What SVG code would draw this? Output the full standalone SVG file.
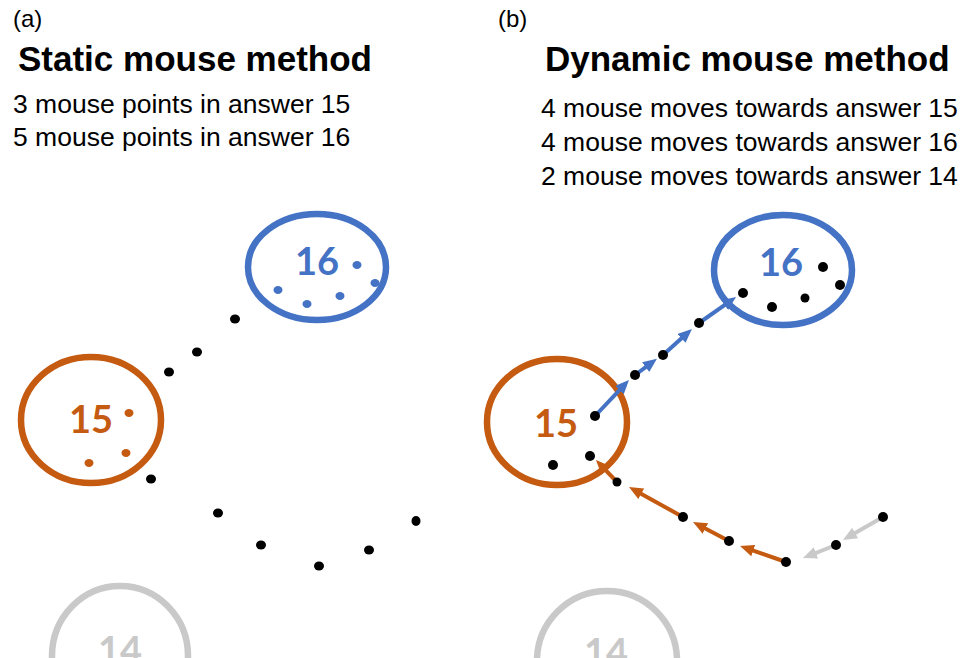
<svg xmlns="http://www.w3.org/2000/svg" width="976" height="658" viewBox="0 0 976 658">
<style>
.lbl{font-family:"Liberation Sans",Arial,sans-serif;fill:#000}
.panel{font-size:24px}
.title{font-size:35px;font-weight:bold}
.line{font-size:26.5px}
.num{font-family:Lato,"Open Sans",sans-serif;font-weight:bold;font-size:38px;text-anchor:middle}
.ring{fill:none;stroke-width:6.5}
.blue{stroke:#4472C4}
.orange{stroke:#C55A11}
.gray{stroke:#C9C9C9}
.dot{fill:#000}
.bdot{fill:#4472C4}
.odot{fill:#C55A11}
.arr{stroke-width:4;fill:none}
</style>
<defs>
<marker id="mb" viewBox="0 0 14 12" refX="6" refY="6" markerWidth="14" markerHeight="12" markerUnits="userSpaceOnUse" orient="auto"><path d="M0,0 L14,6 L0,12 z" fill="#4472C4"/></marker>
<marker id="mo" viewBox="0 0 14 12" refX="6" refY="6" markerWidth="14" markerHeight="12" markerUnits="userSpaceOnUse" orient="auto"><path d="M0,0 L14,6 L0,12 z" fill="#C55A11"/></marker>
<marker id="mg" viewBox="0 0 14 12" refX="6" refY="6" markerWidth="14" markerHeight="12" markerUnits="userSpaceOnUse" orient="auto"><path d="M0,0 L14,6 L0,12 z" fill="#C9C9C9"/></marker>
</defs>
<rect width="976" height="658" fill="#fff"/>

<g id="text-a">
<text class="lbl panel" x="13" y="27">(a)</text>
<text class="lbl title" x="18" y="71">Static mouse method</text>
<text class="lbl line" x="13" y="113">3 mouse points in answer 15</text>
<text class="lbl line" x="13" y="146">5 mouse points in answer 16</text>
</g>
<g id="text-b">
<text class="lbl panel" x="498" y="27">(b)</text>
<text class="lbl title" x="545" y="71">Dynamic mouse method</text>
<text class="lbl line" x="541" y="117">4 mouse moves towards answer 15</text>
<text class="lbl line" x="541" y="151">4 mouse moves towards answer 16</text>
<text class="lbl line" x="541" y="185">2 mouse moves towards answer 14</text>
</g>

<!-- Panel (a) nodes -->
<g id="a-answer16">
<ellipse class="ring blue" cx="317" cy="267" rx="69" ry="53"/>
<text class="num" x="317" y="275" fill="#4472C4">16</text>
</g>
<g id="a-answer15">
<ellipse class="ring orange" cx="91" cy="420" rx="70" ry="63"/>
<text class="num" x="91" y="433" fill="#C55A11">15</text>
</g>
<g id="a-answer14">
<ellipse class="ring gray" cx="120" cy="656" rx="68" ry="70"/>
<text class="num" x="120" y="664" fill="#C9C9C9">14</text>
</g>

<!-- Panel (b) nodes -->
<g id="b-answer16">
<ellipse class="ring blue" cx="783" cy="270" rx="69" ry="55"/>
<text class="num" x="781" y="276" fill="#4472C4">16</text>
</g>
<g id="b-answer15">
<ellipse class="ring orange" cx="557" cy="422" rx="70" ry="63"/>
<text class="num" x="556" y="437" fill="#C55A11">15</text>
</g>
<g id="b-answer14">
<ellipse class="ring gray" cx="607" cy="661" rx="70" ry="70"/>
<text class="num" x="606" y="666" fill="#C9C9C9">14</text>
</g>

<!-- connectors -->
<g id="connectors">
<line class="arr" stroke="#4472C4" x1="595" y1="416" x2="623.5" y2="385.8" marker-end="url(#mb)"/>
<line class="arr" stroke="#4472C4" x1="635" y1="375" x2="650.5" y2="363.6" marker-end="url(#mb)"/>
<line class="arr" stroke="#4472C4" x1="663" y1="355" x2="686" y2="334.3" marker-end="url(#mb)"/>
<line class="arr" stroke="#4472C4" x1="699" y1="323" x2="729.5" y2="301.6" marker-end="url(#mb)"/>
<line class="arr" stroke="#C55A11" x1="786" y1="562" x2="747.6" y2="548.6" marker-end="url(#mo)"/>
<line class="arr" stroke="#C55A11" x1="729" y1="541" x2="700.1" y2="525.7" marker-end="url(#mo)"/>
<line class="arr" stroke="#C55A11" x1="683" y1="517" x2="636" y2="490.9" marker-end="url(#mo)"/>
<line class="arr" stroke="#C55A11" x1="617" y1="482" x2="601.5" y2="465.8" marker-end="url(#mo)"/>
<line class="arr" stroke="#C9C9C9" x1="883" y1="517" x2="849.9" y2="536" marker-end="url(#mg)"/>
<line class="arr" stroke="#C9C9C9" x1="836" y1="545" x2="810.4" y2="555.1" marker-end="url(#mg)"/>
</g>

<g id="a-points">
<ellipse class="bdot" cx="278" cy="290" rx="4.5" ry="4"/>
<ellipse class="bdot" cx="307" cy="304" rx="4.5" ry="4"/>
<ellipse class="bdot" cx="340" cy="296" rx="4.5" ry="4"/>
<ellipse class="bdot" cx="357" cy="265" rx="4.5" ry="4"/>
<ellipse class="bdot" cx="375" cy="283" rx="4.5" ry="4"/>
<ellipse class="odot" cx="129" cy="413" rx="4.5" ry="4"/>
<ellipse class="odot" cx="126" cy="453" rx="4.5" ry="4"/>
<ellipse class="odot" cx="89" cy="463" rx="4.5" ry="4"/>
<ellipse class="dot" cx="235" cy="319" rx="5" ry="4.5"/>
<ellipse class="dot" cx="197" cy="352" rx="5" ry="4.5"/>
<ellipse class="dot" cx="169" cy="372" rx="5" ry="4.5"/>
<ellipse class="dot" cx="151" cy="479" rx="5" ry="4.5"/>
<ellipse class="dot" cx="218" cy="513" rx="5" ry="4.5"/>
<ellipse class="dot" cx="261" cy="545" rx="5" ry="4.5"/>
<ellipse class="dot" cx="319" cy="566" rx="5" ry="4.5"/>
<ellipse class="dot" cx="369" cy="550" rx="5" ry="4.5"/>
<ellipse class="dot" cx="416" cy="521" rx="4.5" ry="5"/>
</g>

<g id="b-points">
<circle class="dot" cx="595" cy="416" r="5"/>
<circle class="dot" cx="553" cy="465" r="5"/>
<circle class="dot" cx="590" cy="456" r="5"/>
<circle class="dot" cx="617" cy="482" r="4.5"/>
<circle class="dot" cx="635" cy="375" r="5"/>
<circle class="dot" cx="663" cy="355" r="5"/>
<circle class="dot" cx="699" cy="323" r="5"/>
<circle class="dot" cx="743" cy="293" r="5"/>
<circle class="dot" cx="772" cy="307" r="5"/>
<circle class="dot" cx="805" cy="298" r="4.5"/>
<circle class="dot" cx="823" cy="267" r="5"/>
<circle class="dot" cx="840" cy="285" r="5"/>
<circle class="dot" cx="683" cy="517" r="5"/>
<circle class="dot" cx="729" cy="541" r="5"/>
<circle class="dot" cx="786" cy="562" r="5"/>
<circle class="dot" cx="836" cy="545" r="5"/>
<circle class="dot" cx="883" cy="517" r="5"/>
</g>
</svg>
